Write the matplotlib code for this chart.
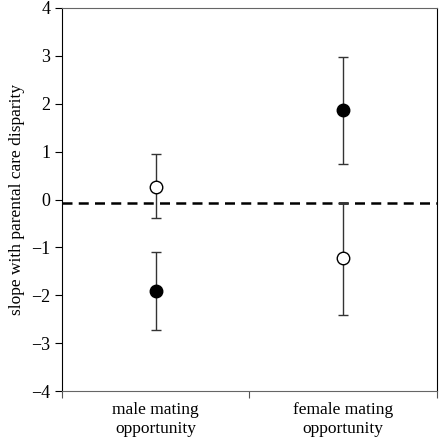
import matplotlib
matplotlib.use('Agg')
import matplotlib.pyplot as plt

# categories and estimates
categories = ['male mating\nopportunity', 'female mating\nopportunity']
open_vals = [0.27, -1.23]
open_lo = [-0.38, -2.42]
open_hi = [0.95, -0.07]
filled_vals = [-1.92, 1.87]
filled_lo = [-2.72, 0.75]
filled_hi = [-1.10, 2.98]
baseline = -0.07

plt.rcParams['font.family'] = ['Liberation Serif', 'DejaVu Serif']

fig = plt.figure(figsize=(4.4, 4.38), dpi=100)
ax = fig.add_axes([0.141, 0.107, 0.852, 0.875])

xs = range(len(categories))
ax.axhline(baseline, color='black', lw=1.8, ls=(0, (4, 2.5)), zorder=1)

for x, v, lo, hi in zip(xs, open_vals, open_lo, open_hi):
    ax.errorbar(x, v, yerr=[[v - lo], [hi - v]], fmt='o', ms=9, mfc='white',
                mec='black', mew=1, ecolor='#333333', elinewidth=1, capsize=3.3,
                capthick=1, zorder=3)
for x, v, lo, hi in zip(xs, filled_vals, filled_lo, filled_hi):
    ax.errorbar(x, v, yerr=[[v - lo], [hi - v]], fmt='o', ms=9, mfc='black',
                mec='black', mew=1, ecolor='#333333', elinewidth=1, capsize=3.3,
                capthick=1, zorder=3)

ax.set_xlim(-0.5, 1.5)
ax.set_ylim(-4, 4)
ax.set_yticks(range(-4, 5))
ax.set_yticklabels([str(t).replace('-', '\u2212') for t in range(-4, 5)])
ax.set_xticks([-0.5, 0.5, 1.5])
ax.set_xticklabels([])
ax.set_xticks(list(xs), minor=True)
ax.set_xticklabels(categories, minor=True, fontsize=12.5)
ax.tick_params(axis='x', which='minor', length=0, pad=8)
ax.tick_params(axis='x', which='major', length=5, color='#555555')
ax.tick_params(axis='y', length=5, labelsize=13)
ax.set_ylabel('slope with parental care disparity', fontsize=12.5, labelpad=4)

for s in ['top', 'bottom']:
    ax.spines[s].set_color('#666666')
ax.spines['left'].set_color('black')
ax.spines['right'].set_color('black')

fig.savefig('out.png', dpi=100)
